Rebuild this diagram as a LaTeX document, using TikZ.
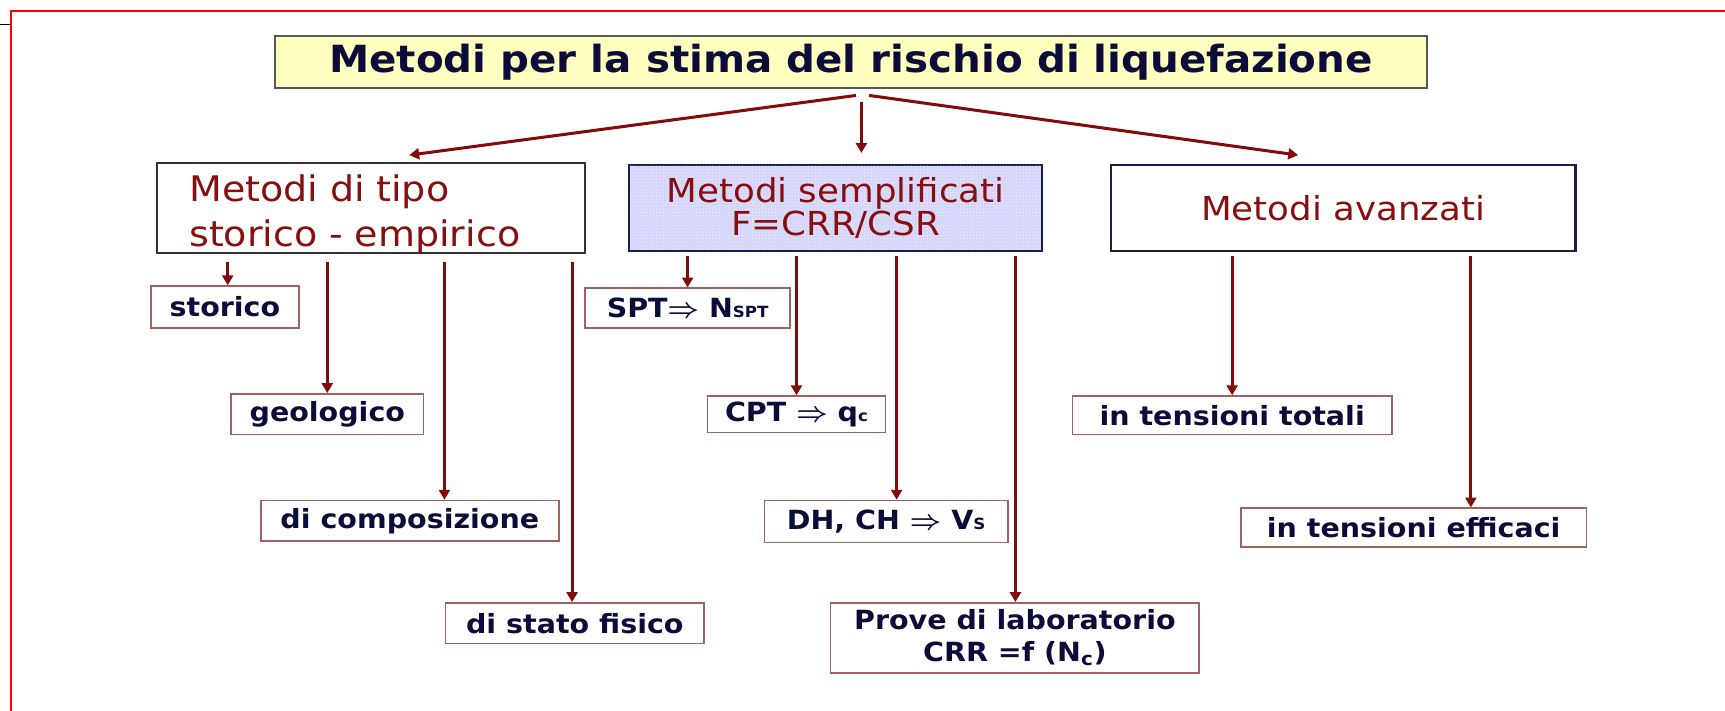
\documentclass[tikz,border=0pt]{standalone}
\usepackage{amsmath}
\usepackage{fontspec}
\setmainfont{DejaVu Sans}[FakeStretch=1.08]
\usetikzlibrary{arrows.meta, calc, patterns}

\definecolor{linered}{RGB}{130,12,12}
\definecolor{leafedge}{RGB}{165,95,95}
\definecolor{navytext}{RGB}{12,12,58}
\definecolor{groupred}{RGB}{135,15,15}
\definecolor{titlefill}{RGB}{255,255,192}
\definecolor{simplfill}{RGB}{214,214,250}
\definecolor{frameblue}{RGB}{28,28,78}

\newcommand{\lowidx}[1]{{\fontsize{14}{14}\selectfont #1}}
\newcommand{\impl}{$\boldsymbol{\Rightarrow}$}

\begin{document}
\begin{tikzpicture}[x=1pt, y=-1pt,
    topbox/.style={draw=gray!70!black, line width=1.5pt, fill=titlefill, text=navytext,
        font=\bfseries\fontsize{34}{38}\selectfont, minimum width=1047pt, minimum height=47pt},
    groupbox/.style={line width=2pt, align=center, text=groupred,
        font=\fontsize{30}{30}\selectfont, minimum height=78pt},
    leafbox/.style={draw=leafedge, line width=1.5pt, fill=white, text=navytext, align=center,
        font=\bfseries\fontsize{24}{28}\selectfont, minimum height=37pt},
    arr/.style={color=linered, line width=2.75pt, -{Triangle[width=10pt,length=9pt]}}]

    \useasboundingbox (0,0) rectangle (1568,646);

    % slide frame
    \draw[red, line width=2pt] (10,646) -- (10,10) -- (1568,10);
    \draw[black, line width=1pt] (0,22) -- (10,22);

    \node[topbox] (title) at (773.5,56.5) {Metodi per la stima del rischio di liquefazione};

    \node[groupbox, draw=black!80, inner xsep=0pt, text width=331pt, align=left, text depth=36pt,
        minimum width=389pt, minimum height=82pt, font=\fontsize{32}{41}\selectfont] (storemp) at (337.5,189)
        {Metodi di tipo\\storico - empirico};
    \node[groupbox, draw=frameblue, fill=simplfill,
        postaction={pattern=dots, pattern color=white!70!simplfill},
        minimum width=375pt] (simpl) at (759.5,189) {Metodi semplificati\\F=CRR/CSR};
    \node[groupbox, draw=frameblue, minimum width=422pt] (adv) at (1221,189) {Metodi avanzati};

    % storico - empirico
    \node[leafbox, minimum width=135pt, minimum height=38pt] (storico) at (204.5,279) {storico};
    \node[leafbox, minimum width=175pt] (geo) at (297.5,376.5) {geologico};
    \node[leafbox, minimum width=271pt] (comp) at (372.5,473.5) {di composizione};
    \node[leafbox, minimum width=235pt] (fisico) at (522.5,566.5) {di stato fisico};

    % semplificati
    \node[leafbox, minimum width=186pt, minimum height=36pt] (spt) at (625,280) {SPT\impl{} N\lowidx{SPT}};
    \node[leafbox, minimum width=162pt, minimum height=33pt] (cpt) at (724,376.5) {CPT \impl{} q\lowidx{c}};
    \node[leafbox, minimum width=221pt, minimum height=38pt] (dh) at (805.5,474) {DH, CH \impl{} V\lowidx{S}};
    \node[leafbox, minimum width=335pt, minimum height=64pt,
        font=\bfseries\fontsize{24}{29}\selectfont] (lab) at (922.5,580)
        {Prove di laboratorio\\CRR =f (N\textsubscript{c})};

    % avanzati
    \node[leafbox, minimum width=290pt, minimum height=35pt] (tot) at (1120,377.5) {in tensioni totali};
    \node[leafbox, minimum width=314pt, minimum height=35pt] (eff) at (1285,479.5) {in tensioni efficaci};

    \path[arr]
        ($(title.south)+(4.5,6)$) edge ($(storemp.north)+(34.5,-6)$)
        ($(title.south)+(9.5,12)$) edge ($(simpl.north)+(23.5,-10)$)
        ($(title.south)+(16.5,6)$) edge ($(adv.north)+(-41,-8)$)
        ($(storemp.south -| storico.north)+(2.5,7)$) edge ($(storico.north)+(2.5,0)$)
        ($(storemp.south -| geo.north)+(0,7)$) edge (geo.north)
        ($(storemp.south -| comp.north)+(31.5,7)$) edge ($(comp.north)+(31.5,0)$)
        ($(storemp.south -| fisico.north)+(-2.5,7)$) edge ($(fisico.north)+(-2.5,0)$)
        ($(simpl.south -| spt.north)+(0,4)$) edge (spt.north)
        ($(simpl.south -| cpt.north)+(0,4)$) edge (cpt.north)
        ($(simpl.south -| dh.north)+(9.5,4)$) edge ($(dh.north)+(9.5,0)$)
        ($(simpl.south -| lab.north)+(0.5,4)$) edge ($(lab.north)+(0.5,0)$)
        ($(adv.south -| tot.north)+(0,4)$) edge (tot.north)
        ($(adv.south -| eff.north)+(52,4)$) edge ($(eff.north)+(52,0)$);
\end{tikzpicture}
\end{document}
